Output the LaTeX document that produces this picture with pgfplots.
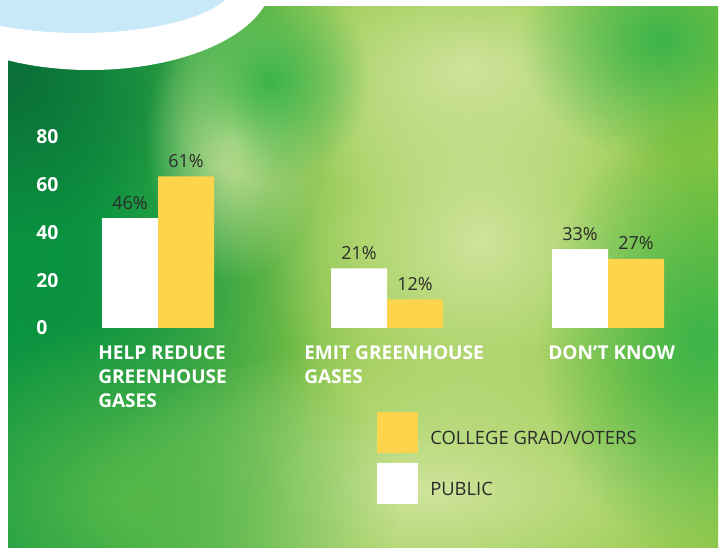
\documentclass[border=0pt]{standalone}
\usepackage{fontspec}
\setmainfont{Open Sans}
\usepackage{pgfplots}
\pgfplotsset{compat=1.18}
\usepackage{pgfplotstable}
\usetikzlibrary{fadings}

\definecolor{barYellow}{HTML}{FDD44C}
\definecolor{txtGray}{HTML}{2B2B2B}
\definecolor{skyBlue}{HTML}{C8E9F8}
\definecolor{bgLeft}{HTML}{109A48}
\definecolor{bgMid}{HTML}{93C847}
\definecolor{bgRight}{HTML}{8CC63F}
\definecolor{bgDark}{HTML}{08913F}
\definecolor{bgDeep}{HTML}{0B6E37}
\definecolor{bgPale}{HTML}{CFE49C}
\definecolor{bgSpot}{HTML}{3CB44A}
\definecolor{bgLow}{HTML}{55B848}

\tikzfading[name=blob, inner color=transparent!0, outer color=transparent!100]

\pgfplotsset{
  sqlegend/.style={legend image code/.code={\fill[##1] (0pt,-10.6pt) rectangle (30.75pt,20.15pt);}},
}

% bar heights as drawn, labels as printed
\pgfplotstableread{
x   pub  publab col  collab
158 46   46     63.5 61
387 25   21     12   12
608 33   33     29   27
}\surveydata

\begin{document}
\begin{tikzpicture}
% background, in pixel units of the reference
\begin{scope}[x=0.75pt, y=-0.75pt, shift={(0pt,414pt)}]
  \fill[white] (0,0) rectangle (723,552);
  \begin{scope}
    \clip (8,7) rectangle (718,548);
    \shade[left color=bgLeft, right color=bgRight, middle color=bgMid] (8,7) rectangle (718,548);
    \fill[bgDark, path fading=blob] (60,260) ellipse [x radius=260, y radius=520];
    \fill[bgDeep, path fading=blob] (10,80) ellipse [x radius=180, y radius=160];
    \fill[bgPale, path fading=blob] (470,70) ellipse [x radius=240, y radius=140];
    \fill[bgPale, path fading=blob] (480,240) ellipse [x radius=220, y radius=220];
    \fill[bgPale, path fading=blob] (430,490) ellipse [x radius=360, y radius=150];
    \fill[bgPale, path fading=blob] (235,140) ellipse [x radius=90, y radius=140];
    \fill[bgSpot, path fading=blob] (700,340) ellipse [x radius=160, y radius=220];
    \fill[bgSpot, path fading=blob] (270,80) ellipse [x radius=100, y radius=100];
    \fill[bgSpot, path fading=blob] (660,40) ellipse [x radius=140, y radius=120];
    \fill[bgLow, path fading=blob] (140,500) ellipse [x radius=260, y radius=180];
  \end{scope}
  \fill[white] (90,-20) ellipse [x radius=182, y radius=90];
  \fill[skyBlue] (80,-18) ellipse [x radius=155, y radius=51];
\end{scope}

\begin{axis}[
  at={(0pt,168pt)}, anchor=south west,
  width=542.25pt, height=143.25pt, scale only axis,
  xmin=0, xmax=723, ymin=0, ymax=80,
  clip=false,
  axis line style={draw=none},
  xtick=\empty,
  ytick={0,20,...,80},
  major tick length=0pt,
  yticklabel style={anchor=west, inner sep=0pt, xshift=27pt, text=white,
    font=\fontsize{14.5}{14.5}\selectfont\bfseries},
  /pgf/number format/assume math mode=true,
  ybar=0pt, bar width=42pt,
  point meta=explicit symbolic,
  nodes near coords={\pgfplotspointmeta\%},
  nodes near coords style={anchor=base, inner sep=0pt, yshift=6.75pt, text=txtGray,
    font=\fontsize{13.5}{16}\selectfont},
  legend style={at={(0.52144,-0.4398)}, anchor=north west, draw=none, fill=none,
    inner sep=0pt, row sep=7.1pt, text=txtGray,
    font=\fontsize{13.8}{16}\selectfont,
    nodes={inner sep=0pt},
    /tikz/every odd column/.append style={column sep=9pt}},
  legend cell align=left,
  reverse legend,
]
\addplot[fill=white, draw=none, sqlegend] table[x=x, y=pub, meta=publab] {\surveydata};
\addlegendentry{PUBLIC}
\addplot[fill=barYellow, draw=none, sqlegend] table[x=x, y=col, meta=collab] {\surveydata};
\addlegendentry{COLLEGE GRAD/VOTERS}
\end{axis}

\begin{scope}[every node/.style={anchor=north west, align=left, inner sep=0pt, text=white,
    font=\fontsize{14.3}{18}\selectfont\bfseries}]
  \node at (73.5pt,155.25pt) {HELP REDUCE\\GREENHOUSE\\GASES};
  \node at (228pt,155.25pt) {EMIT GREENHOUSE\\GASES};
  \node at (411pt,155.25pt) {DON’T KNOW};
\end{scope}

\pgfresetboundingbox
\path (0,0) rectangle (542.25pt,414pt);
\end{tikzpicture}
\end{document}
